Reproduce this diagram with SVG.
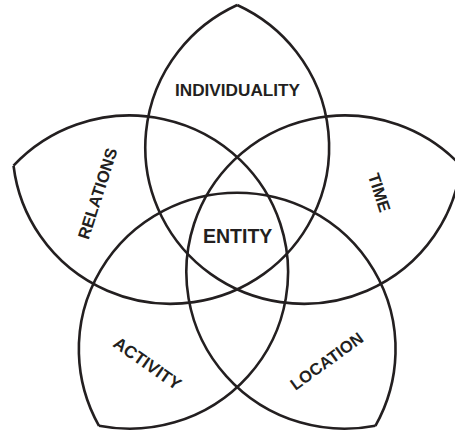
<svg xmlns="http://www.w3.org/2000/svg" width="455" height="432" viewBox="0 0 455 432">
  <style>
    .outline { fill: none; stroke: #231f20; stroke-width: 2.6; stroke-linejoin: miter; }
    .lbl { font-family: "Liberation Sans", Arial, Helvetica, sans-serif; font-weight: bold; fill: #231f20; text-anchor: middle; }
    .outer { font-size: 16.6px; }
    .center { font-size: 19.5px; }
  </style>
  <rect width="455" height="432" fill="#ffffff"/>
  <g id="connectors" transform="translate(237.2 237.6) scale(1.005 0.994)">
    <path class="outline" vector-effect="non-scaling-stroke" d="M 0 -234 A 157.56 157.56 0 1 0 222.55 -72.31"/>
    <path class="outline" vector-effect="non-scaling-stroke" d="M 222.55 -72.31 A 157.56 157.56 0 1 0 137.54 189.31"/>
    <path class="outline" vector-effect="non-scaling-stroke" d="M 137.54 189.31 A 157.56 157.56 0 1 0 -137.54 189.31"/>
    <path class="outline" vector-effect="non-scaling-stroke" d="M -137.54 189.31 A 157.56 157.56 0 1 0 -222.55 -72.31"/>
    <path class="outline" vector-effect="non-scaling-stroke" d="M -222.55 -72.31 A 157.56 157.56 0 1 0 0 -234"/>
  </g>
  <g id="individuality">
    <text class="lbl outer" x="237.5" y="96" style="font-size:17.2px">INDIVIDUALITY</text>
  </g>
  <g id="time">
    <text class="lbl outer" transform="translate(379.5 192.5) rotate(72)" x="0" y="5.9">TIME</text>
  </g>
  <g id="location">
    <text class="lbl outer" transform="translate(326.7 361) rotate(-36)" x="0" y="5.9">LOCATION</text>
  </g>
  <g id="activity">
    <text class="lbl outer" transform="translate(147.5 363.3) rotate(35)" x="0" y="6.1" style="font-size:17.2px">ACTIVITY</text>
  </g>
  <g id="relations">
    <text class="lbl outer" transform="translate(97.5 193.5) rotate(-72)" x="0" y="5.9">RELATIONS</text>
  </g>
  <g id="entity">
    <text class="lbl center" x="237.7" y="243.3">ENTITY</text>
  </g>
</svg>
